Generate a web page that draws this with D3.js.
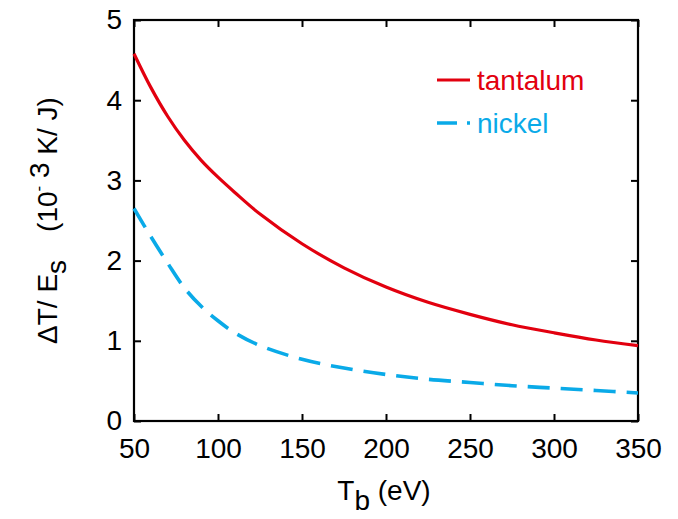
<!DOCTYPE html>
<html>
<head>
<meta charset="utf-8">
<script src="https://cdn.jsdelivr.net/npm/d3@7"></script>
<style>
  html, body { margin: 0; padding: 0; background: #fff; }
  svg text { font-family: "Liberation Sans", Arial, Helvetica, sans-serif; fill: #000; }
</style>
</head>
<body>
<svg id="chart" width="678" height="519"></svg>
<script>
// Beam energy T_b (eV)
const energies = [50, 60, 70, 80, 90, 100, 110, 125, 150, 175, 200, 225, 250, 275, 300, 325, 350];
// Temperature rise per stored energy, 10^-3 K/J
const tantalum = [4.58, 4.16, 3.80, 3.50, 3.25, 3.04, 2.85, 2.58, 2.21, 1.91, 1.67, 1.48, 1.33, 1.20, 1.10, 1.01, 0.94];
const nickel   = [2.65, 2.30, 1.97, 1.66, 1.43, 1.25, 1.10, 0.94, 0.77, 0.66, 0.58, 0.52, 0.48, 0.44, 0.41, 0.38, 0.35];
const xTicks = [50, 100, 150, 200, 250, 300, 350];
const yTicks = [0, 1, 2, 3, 4, 5];
const seriesNames = ["tantalum", "nickel"];
const seriesColors = ["#e2000f", "#0aaae8"];

const svg = d3.select("#chart");
const margin = { left: 134, right: 40, top: 20, bottom: 98 };
const W = 678, H = 519;
const x = d3.scaleLinear().domain([50, 350]).range([margin.left, W - margin.right]);
const y = d3.scaleLinear().domain([0, 5]).range([H - margin.bottom, margin.top]);

const tickLen = 7;
const fontSize = 28;

// inward ticks on all four sides
const axes = [
  { ax: d3.axisBottom(x).tickValues(xTicks).tickSize(-tickLen).tickPadding(17).tickFormat(d3.format("d")), t: `translate(0,${y(0)})` },
  { ax: d3.axisTop(x).tickValues(xTicks).tickSize(-tickLen).tickFormat(""), t: `translate(0,${y(5)})` },
  { ax: d3.axisLeft(y).tickValues(yTicks).tickSize(-tickLen).tickPadding(12).tickFormat(d3.format("d")), t: `translate(${x(50)},0)` },
  { ax: d3.axisRight(y).tickValues(yTicks).tickSize(-tickLen).tickFormat(""), t: `translate(${x(350)},0)` }
];
axes.forEach(a => {
  const g = svg.append("g").attr("transform", a.t).call(a.ax);
  g.select(".domain").remove();
  g.selectAll(".tick line").attr("stroke", "#000").attr("stroke-width", 2);
  g.selectAll(".tick text").attr("font-size", fontSize)
    .attr("font-family", "'Liberation Sans', Arial, sans-serif").attr("fill", "#000");
});

// frame
svg.append("rect")
  .attr("x", x(50)).attr("y", y(5))
  .attr("width", x(350) - x(50)).attr("height", y(0) - y(5))
  .attr("fill", "none").attr("stroke", "#000").attr("stroke-width", 2.2);

const line = d3.line().x((d, i) => x(energies[i])).y(d => y(d)).curve(d3.curveCatmullRom.alpha(0.5));

svg.append("path").datum(tantalum)
  .attr("d", line).attr("fill", "none")
  .attr("stroke", seriesColors[0]).attr("stroke-width", 3.2);

svg.append("path").datum(nickel)
  .attr("d", line).attr("fill", "none")
  .attr("stroke", seriesColors[1]).attr("stroke-width", 3.6)
  .attr("stroke-dasharray", "22,11");

// legend
const legX0 = 437, legX1 = 470, legTextX = 477;
const legY = [80, 123];
[0, 1].forEach(i => {
  svg.append("line")
    .attr("x1", legX0).attr("x2", legX1).attr("y1", legY[i]).attr("y2", legY[i])
    .attr("stroke", seriesColors[i]).attr("stroke-width", i ? 3.6 : 3.2)
    .attr("stroke-dasharray", i ? "20,10" : null);
  svg.append("text")
    .attr("x", legTextX).attr("y", legY[i] + 10)
    .attr("font-size", 28).style("fill", seriesColors[i])
    .text(seriesNames[i]);
});

// x axis title
const xt = svg.append("text")
  .attr("x", (x(50) + x(350)) / 2 - 2).attr("y", 500)
  .attr("text-anchor", "middle").attr("font-size", 28);
xt.append("tspan").text("T");
xt.append("tspan").attr("dy", 10).text("b");
xt.append("tspan").attr("dy", -10).text(" (eV)");

// y axis title
const yt = svg.append("text")
  .attr("transform", `translate(57,${(y(0) + y(5)) / 2}) rotate(-90)`)
  .attr("text-anchor", "middle").attr("font-size", 28);
yt.append("tspan").text("\u0394T/ E");
yt.append("tspan").attr("dy", 9).text("s");
yt.append("tspan").attr("dy", -9).text("\u2003(10");
yt.append("tspan").attr("dy", -13).attr("font-size", 17).text("-");
yt.append("tspan").attr("dy", 5).text(" 3");
yt.append("tspan").attr("dy", 8).text(" K/ J)");
</script>
</body>
</html>
